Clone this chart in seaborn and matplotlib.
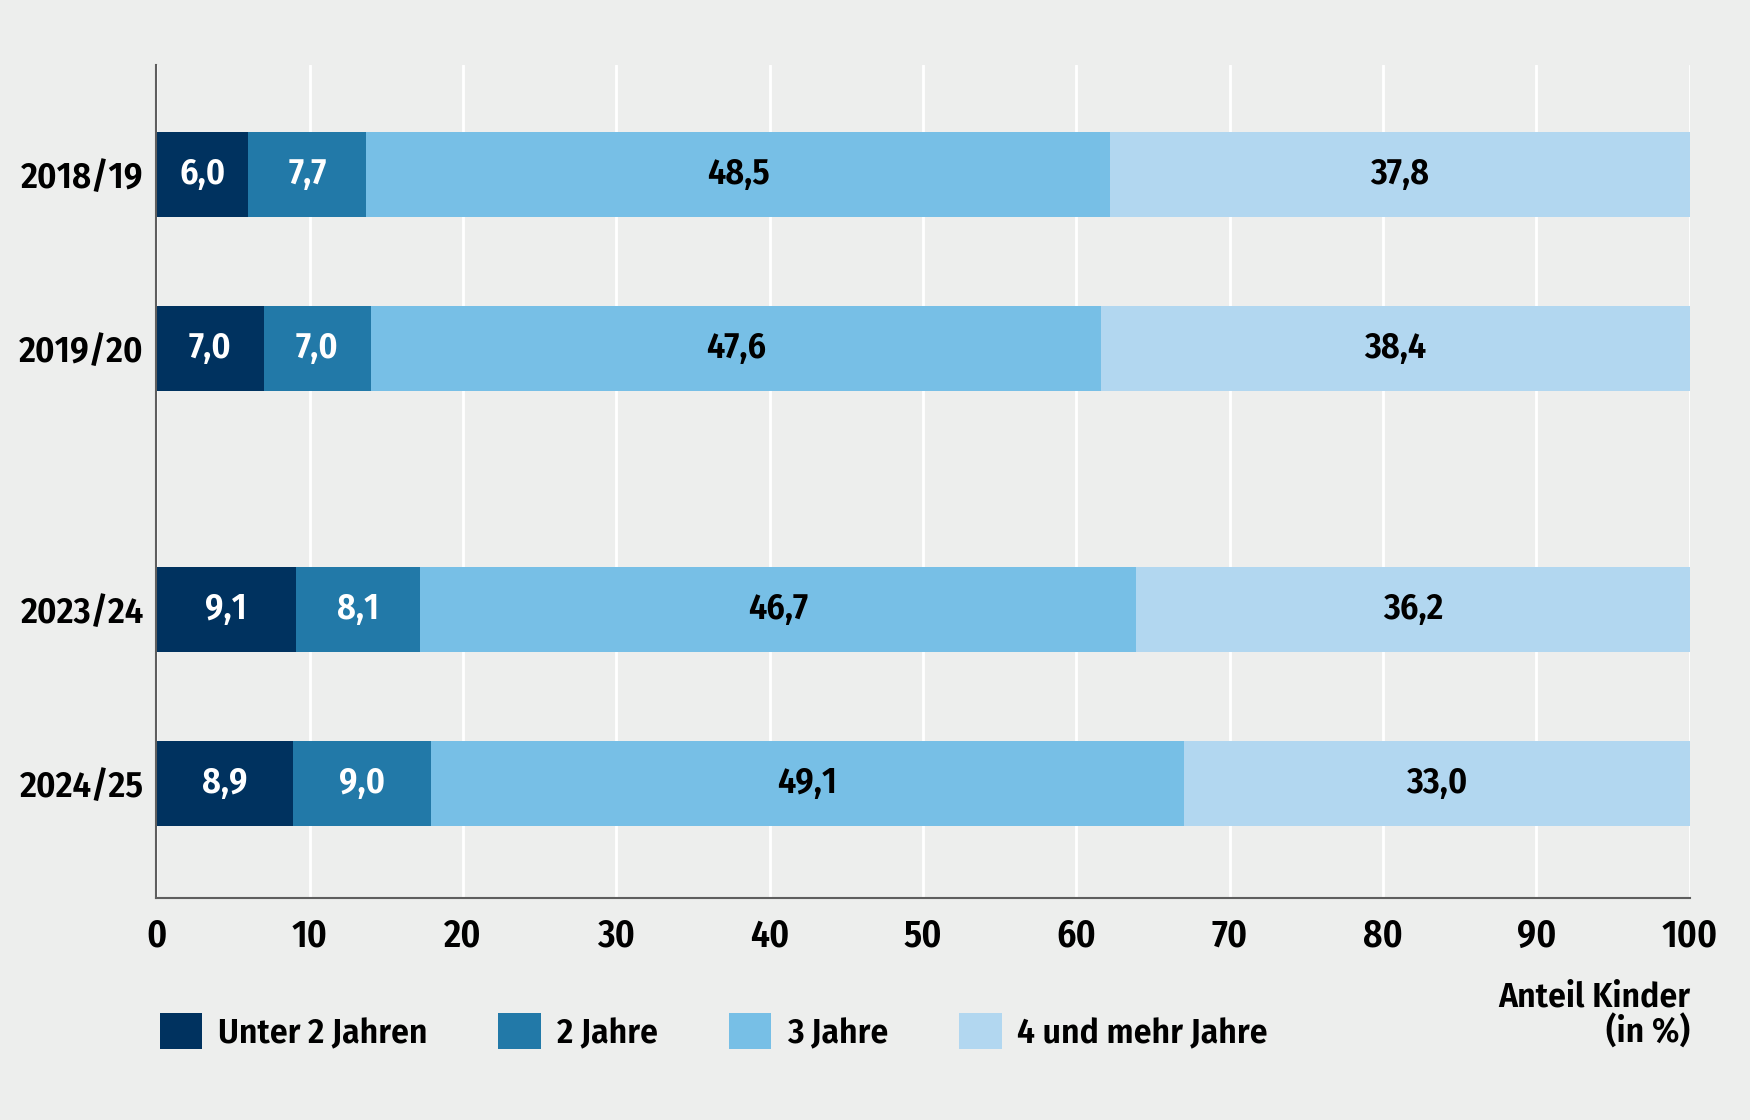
import pandas as pd
import numpy as np
import seaborn as sns
import matplotlib.pyplot as plt
from matplotlib.patches import Patch

# Data
jahre = ["2018/19", "2019/20", "2023/24", "2024/25"]
positionen = [0, 1, 2.5, 3.5]          # gap marks the break between 2019/20 and 2023/24
gruppen = ["Unter 2 Jahren", "2 Jahre", "3 Jahre", "4 und mehr Jahre"]
unter_2 = [6.0, 7.0, 9.1, 8.9]
zwei = [7.7, 7.0, 8.1, 9.0]
drei = [48.5, 47.6, 46.7, 49.1]
vier_plus = [37.8, 38.4, 36.2, 33.0]
x_ticks = [0, 10, 20, 30, 40, 50, 60, 70, 80, 90, 100]

farben = ["#00325F", "#2279A8", "#77BFE6", "#B2D7F0"]
text_farben = ["white", "white", "black", "black"]
bg = "#EDEEED"

sns.set_theme(style="white", rc={"figure.facecolor": bg, "axes.facecolor": bg,
                                 "text.color": "black", "xtick.color": "black",
                                 "ytick.color": "black"})
plt.rcParams["font.family"] = ["Fira Sans Condensed", "DejaVu Sans"]
plt.rcParams["font.weight"] = "semibold"

werte = np.array([unter_2, zwei, drei, vier_plus])
kumuliert = np.cumsum(werte, axis=0)

fig = plt.figure(figsize=(17.5, 11.2), dpi=100)
ax = fig.add_axes([0.0893, 0.198, 0.8763, 0.744])

# layered stacking: draw the largest cumulative first
for i in range(len(gruppen) - 1, -1, -1):
    df = pd.DataFrame({"pos": positionen, "wert": kumuliert[i]})
    sns.barplot(data=df, x="wert", y="pos", orient="y", native_scale=True,
                color=farben[i], saturation=1, width=0.49, linewidth=0,
                errorbar=None, ax=ax)

# segment labels
for i in range(len(gruppen)):
    for j, p in enumerate(positionen):
        mitte = kumuliert[i][j] - werte[i][j] / 2
        ax.text(mitte, p, f"{werte[i][j]:.1f}".replace(".", ","), ha="center",
                va="center", color=text_farben[i], fontsize=26, fontweight="semibold")

ax.set_xlim(0, 100)
ax.set_ylim(4.16, -0.628)
ax.set_xticks(x_ticks)
ax.set_xticklabels([str(t) for t in x_ticks])
ax.set_yticks(positionen)
ax.set_yticklabels(jahre)
ax.tick_params(axis="x", labelsize=27, pad=14, length=0)
ax.tick_params(axis="y", labelsize=26.5, pad=9, length=0)
for lab in ax.get_xticklabels() + ax.get_yticklabels():
    lab.set_fontweight("semibold")
ax.set_xlabel("")
ax.set_ylabel("")

ax.set_axisbelow(True)
ax.xaxis.grid(True, color="white", linewidth=2)
ax.yaxis.grid(False)
for s in ["top", "right"]:
    ax.spines[s].set_visible(False)
for s in ["left", "bottom"]:
    ax.spines[s].set_color("#5E5E5E")
    ax.spines[s].set_linewidth(1.5)

handles = [Patch(facecolor=c, edgecolor="none") for c in farben]
fig.legend(handles, gruppen, loc="center left", bbox_to_anchor=(0.0912, 0.0787),
           ncol=4, frameon=False, handlelength=1.2, handleheight=1.2,
           handletextpad=0.45, columnspacing=2.0, borderpad=0, borderaxespad=0,
           prop={"weight": "semibold", "size": 25.5})

fig.text(0.9656, 0.0936, "Anteil Kinder\n(in %)", ha="right", va="center",
         multialignment="right", fontsize=25.5, fontweight="semibold", linespacing=1.05)

fig.savefig("out.png", dpi=100, facecolor=bg)
